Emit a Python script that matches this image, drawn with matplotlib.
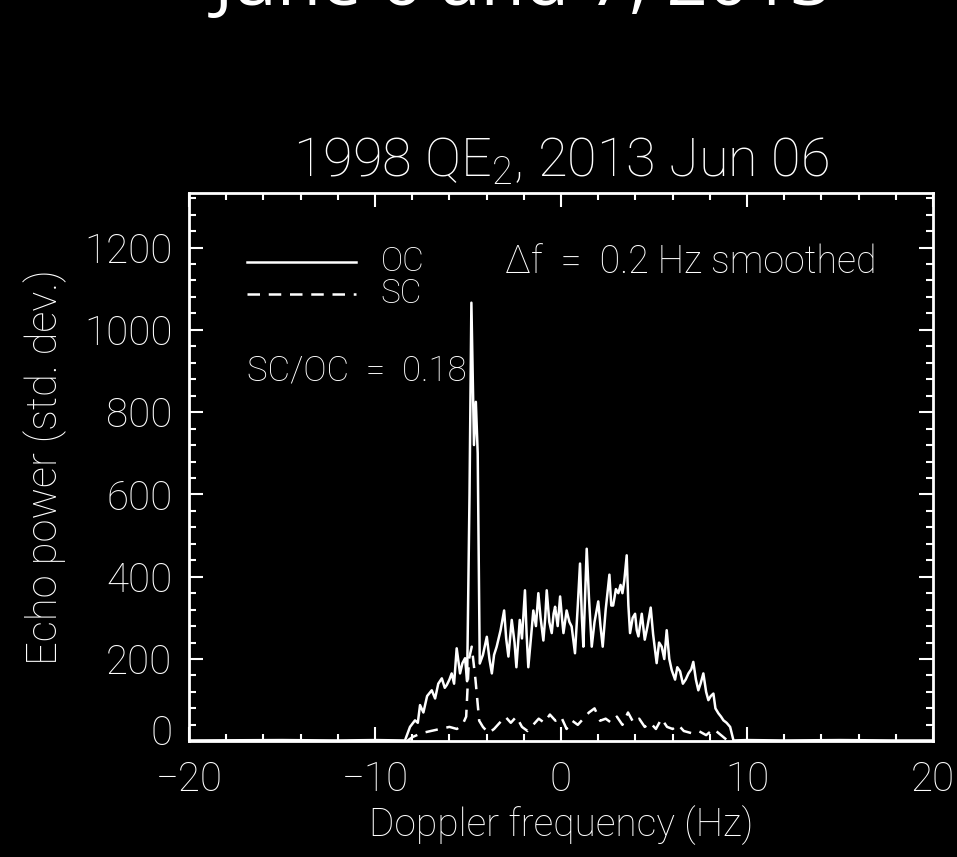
import matplotlib
matplotlib.use("Agg")
import matplotlib.pyplot as plt
from matplotlib.ticker import MultipleLocator
from matplotlib.transforms import ScaledTranslation

# OC spectrum (Hz, std. dev.)
oc_freq = [-20, -15, -12, -10, -8.6, -8.39, -8.12, -7.85, -7.7, -7.58, -7.4, -7.2,
           -6.95, -6.77, -6.6, -6.41, -6.25, -6.14, -6.0, -5.88, -5.75, -5.61, -5.43,
           -5.3, -5.16, -5.05, -4.92, -4.82, -4.68, -4.58, -4.48, -4.37, -4.2, -3.99,
           -3.85, -3.72, -3.6, -3.46, -3.25, -3.06, -2.95, -2.83, -2.65, -2.5, -2.4,
           -2.22, -2.1, -1.94, -1.85, -1.76, -1.6, -1.49, -1.35, -1.22, -1.1, -0.95,
           -0.85, -0.77, -0.63, -0.5, -0.4, -0.32, -0.18, -0.05, 0.05, 0.13, 0.3,
           0.45, 0.57, 0.75, 0.9, 1.02, 1.12, 1.2, 1.38, 1.5, 1.65, 1.8, 2.0, 2.12,
           2.24, 2.4, 2.6, 2.7, 2.8, 2.95, 3.08, 3.2, 3.3, 3.4, 3.53, 3.62, 3.71,
           3.85, 3.98, 4.07, 4.16, 4.34, 4.5, 4.65, 4.82, 4.95, 5.14, 5.27, 5.41,
           5.55, 5.68, 5.82, 5.95, 6.13, 6.25, 6.4, 6.55, 6.7, 6.85, 7.0, 7.11, 7.25,
           7.38, 7.5, 7.65, 7.8, 7.92, 8.05, 8.19, 8.3, 8.46, 8.6, 8.73, 8.9, 9.09,
           9.27, 10, 12, 15, 18, 20]
oc_power = [2, 3, 2, 3, 2, 2, 35, 51, 45, 88, 70, 110,
            124, 104, 140, 153, 130, 137, 150, 165, 140, 226, 165,
            190, 202, 146, 600, 1066, 720, 825, 700, 189, 210, 254,
            200, 165, 210, 230, 270, 318, 250, 206, 295, 240, 180,
            295, 250, 367, 260, 180, 260, 318, 280, 360, 300, 245,
            300, 367, 290, 263, 310, 327, 280, 352, 300, 263, 318,
            290, 279, 214, 330, 432, 300, 230, 468, 350, 230, 290, 340, 280,
            230, 320, 405, 330, 330, 370, 360, 380, 360, 390, 452, 330, 263,
            300, 310, 270, 255, 310, 247, 280, 325, 260, 190, 240, 230,
            200, 270, 200, 173, 150, 180, 170, 140, 150, 165, 175, 193, 150,
            124, 140, 165, 120, 100, 110, 116, 80, 68, 60, 51, 45, 35,
            2, 3, 2, 3, 2, 2]

# SC spectrum
sc_freq = [-8.3, -8.0, -7.5, -7.0, -6.5, -6.0, -5.6, -5.3, -5.1, -4.95, -4.8, -4.6,
           -4.4, -4.2, -3.9, -3.6, -3.3, -3.0, -2.7, -2.4, -2.1, -1.8, -1.5, -1.2,
           -0.9, -0.6, -0.3, 0.0, 0.3, 0.6, 0.9, 1.2, 1.5, 1.8, 2.1, 2.4, 2.7, 3.0,
           3.3, 3.6, 3.9, 4.2, 4.5, 4.8, 5.1, 5.4, 5.7, 6.0, 6.3, 6.6, 7.0, 7.4,
           7.8, 8.2, 8.6, 9.0]
sc_power = [0, 10, 20, 25, 30, 35, 30, 40, 60, 200, 230, 150,
            50, 35, 20, 30, 45, 60, 45, 60, 35, 25, 40, 55,
            45, 65, 50, 60, 30, 50, 40, 55, 70, 80, 50, 55, 45, 60,
            40, 70, 45, 55, 35, 45, 30, 55, 35, 30, 40, 25, 20, 25,
            15, 30, 15, 0]

x_ticks = [-20, -10, 0, 10, 20]
y_ticks = [0, 200, 400, 600, 800, 1000, 1200]

fam = ['Roboto', 'DejaVu Sans']
plt.rcParams['font.family'] = fam
plt.rcParams['font.weight'] = 'light'
plt.rcParams['mathtext.fontset'] = 'custom'
plt.rcParams['mathtext.rm'] = 'Roboto:light'
plt.rcParams['mathtext.it'] = 'Roboto:light'
fg = 'white'

fig = plt.figure(figsize=(9.57, 8.57), dpi=100, facecolor='black')
ax = fig.add_axes([0.1975, 0.135, 0.7775, 0.640], facecolor='black')

ax.plot(oc_freq, oc_power, color=fg, lw=1.8)
ax.plot(sc_freq, sc_power, color=fg, lw=1.8, dashes=(5, 3.5))

ax.set_xlim(-20, 20)
ax.set_ylim(0, 1333)
ax.set_xticks(x_ticks)
ax.set_yticks(y_ticks)
ax.xaxis.set_minor_locator(MultipleLocator(2))
ax.yaxis.set_minor_locator(MultipleLocator(40))
ax.set_xticklabels(['\u221220', '\u221210', '0', '10', '20'])
ax.tick_params(which='both', direction='in', top=True, right=True, colors=fg,
               width=1.5, labelsize=29)
ax.tick_params(axis='x', pad=14)
ax.tick_params(axis='y', pad=12)
ax.tick_params(which='major', length=10)
ax.tick_params(which='minor', length=5)
for s in ax.spines.values():
    s.set_color(fg)
    s.set_linewidth(2)
# IDL lifts the bottom "0" label a little
lbl0 = ax.get_yticklabels()[0]
lbl0.set_transform(lbl0.get_transform() + ScaledTranslation(0, 12 / 100, fig.dpi_scale_trans))

ax.set_xlabel('Doppler frequency (Hz)', color=fg, fontsize=28, fontweight='light', labelpad=4)
ax.set_ylabel('Echo power (std. dev.)', color=fg, fontsize=30, fontweight='light', labelpad=12)
ax.set_title('1998 QE$_2$, 2013 Jun 06', color=fg, fontsize=39, fontweight='light', pad=12)

# legend drawn IDL-style
ax.plot([-16.9, -11.0], [1165, 1165], color=fg, lw=1.8)
ax.plot([-16.9, -11.0], [1087, 1087], color=fg, lw=1.8, dashes=(5, 3.5))
ax.text(-9.7, 1165, 'OC', color=fg, fontsize=24, va='center')
ax.text(-9.7, 1087, 'SC', color=fg, fontsize=24, va='center')
ax.text(-3.0, 1165, '\u0394f  =  0.2 Hz smoothed', color=fg, fontsize=27, va='center')
ax.text(-16.9, 900, 'SC/OC  =  0.18', color=fg, fontsize=25, va='center')

fig.text(0.547, 0.994, 'June 6 and 7, 2013', color='white', fontsize=52,
         ha='center', va='baseline', family=['Open Sans', 'DejaVu Sans'],
         fontweight='normal')

fig.savefig('out.png', dpi=100, facecolor='black')
